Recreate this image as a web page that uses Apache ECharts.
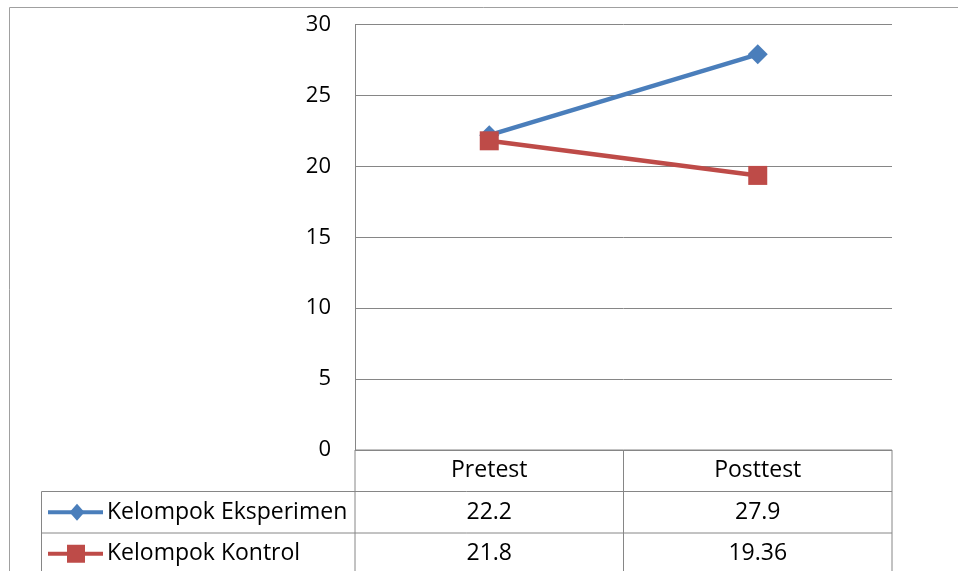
<!DOCTYPE html>
<html>
<head>
<meta charset="utf-8">
<script src="https://cdn.jsdelivr.net/npm/echarts@6/dist/echarts.min.js"></script>
<style>
  html, body { margin: 0; padding: 0; background: #fff; }
  #chart { width: 958px; height: 571px; }
</style>
</head>
<body>
<div id="chart"></div>
<script>
// Categories and scores
const categories = ['Pretest', 'Posttest'];
const seriesNames = ['Kelompok Eksperimen', 'Kelompok Kontrol'];
const eksperimen = [22.2, 27.9];
const kontrol = [21.8, 19.36];
const tableRows = [eksperimen, kontrol];

const FONT = '"Open Sans"';
const FONT_SIZE = 23;
const LINE_GRAY = '#868686';
const FRAME_GRAY = '#a0a0a0';
const COLORS = ['#4a7ebb', '#be4b48'];
const SYMBOLS = ['diamond', 'rect'];

const W = 958, H = 571;
const gridBox = { left: 355, top: 24.5, right: 66, bottom: 121 };

const chart = echarts.init(document.getElementById('chart'), null, { renderer: 'canvas' });

chart.setOption({
  animation: false,
  backgroundColor: '#fff',
  grid: { left: gridBox.left, top: gridBox.top, right: gridBox.right, bottom: gridBox.bottom },
  xAxis: {
    type: 'category',
    data: categories,
    boundaryGap: true,
    axisLine: { show: false },
    axisTick: { show: false },
    axisLabel: { show: false },
    splitLine: { show: false }
  },
  yAxis: {
    type: 'value',
    min: 0,
    max: 30,
    interval: 5,
    axisLine: { show: true, lineStyle: { color: LINE_GRAY, width: 1 } },
    axisTick: { show: false },
    axisLabel: { fontFamily: FONT, fontSize: 22, color: '#000', margin: 24 },
    splitLine: { show: true, lineStyle: { color: LINE_GRAY, width: 1 } }
  },
  series: [
    {
      name: seriesNames[0], type: 'line', data: eksperimen,
      symbol: SYMBOLS[0], symbolSize: 20, showAllSymbol: true,
      lineStyle: { color: COLORS[0], width: 4.5 },
      itemStyle: { color: COLORS[0] }, z: 2
    },
    {
      name: seriesNames[1], type: 'line', data: kontrol,
      symbol: SYMBOLS[1], symbolSize: 19, showAllSymbol: true,
      lineStyle: { color: COLORS[1], width: 4.5 },
      itemStyle: { color: COLORS[1] }, z: 3
    }
  ]
});

// Data table below the plot, aligned to the category axis
function buildTable() {
  const x0 = gridBox.left;
  const x1 = W - gridBox.right;
  const xMid = (x0 + x1) / 2;
  const yTop = chart.convertToPixel({ yAxisIndex: 0 }, 0);
  const rowH = 41.5;
  const rowY = [yTop, yTop + rowH, yTop + 2 * rowH, yTop + 3 * rowH];
  const legendLeft = 41.5;
  const els = [];
  const line = (xa, ya, xb, yb, color) => els.push({
    type: 'line', silent: true,
    shape: { x1: xa, y1: ya, x2: xb, y2: yb },
    style: { stroke: color || LINE_GRAY, lineWidth: 1 }
  });
  const text = (x, y, s, align) => els.push({
    type: 'text', silent: true, x: x, y: y,
    style: { text: s, fill: '#000', font: FONT_SIZE + 'px ' + FONT, align: align || 'center', verticalAlign: 'middle' }
  });

  // outer frame (top and left edges)
  line(9.5, 7.5, W, 7.5, FRAME_GRAY);
  line(9.5, 7.5, 9.5, H, FRAME_GRAY);

  // table grid
  line(x0, rowY[0], x1, rowY[0]);
  line(legendLeft, rowY[1], x1, rowY[1]);
  line(legendLeft, rowY[2], x1, rowY[2]);
  line(legendLeft, rowY[1], legendLeft, H);
  line(x0, rowY[0], x0, H);
  line(xMid, rowY[0], xMid, H);
  line(x1, rowY[0], x1, H);

  // header row
  categories.forEach((c) => {
    const cx = chart.convertToPixel({ xAxisIndex: 0 }, c);
    text(cx, (rowY[0] + rowY[1]) / 2, c);
  });

  // value rows with legend keys
  tableRows.forEach((vals, r) => {
    const cy = (rowY[r + 1] + rowY[r + 2]) / 2;
    vals.forEach((v, i) => {
      const cx = chart.convertToPixel({ xAxisIndex: 0 }, categories[i]);
      text(cx, cy, String(v));
    });
    line(48, cy, 103, cy, COLORS[r]);
    els[els.length - 1].style.lineWidth = 4;
    const s = r === 0 ? 15 : 18;
    if (SYMBOLS[r] === 'diamond') {
      els.push({ type: 'polygon', silent: true,
        shape: { points: [[77, cy - s / 2 - 1], [77 + s / 2, cy], [77, cy + s / 2 + 1], [77 - s / 2, cy]] },
        style: { fill: COLORS[r] } });
    } else {
      els.push({ type: 'rect', silent: true,
        shape: { x: 76 - s / 2, y: cy - s / 2, width: s, height: s },
        style: { fill: COLORS[r] } });
    }
    text(107, cy, seriesNames[r], 'left');
  });

  chart.setOption({ graphic: { elements: els } });
}
buildTable();
</script>
</body>
</html>
